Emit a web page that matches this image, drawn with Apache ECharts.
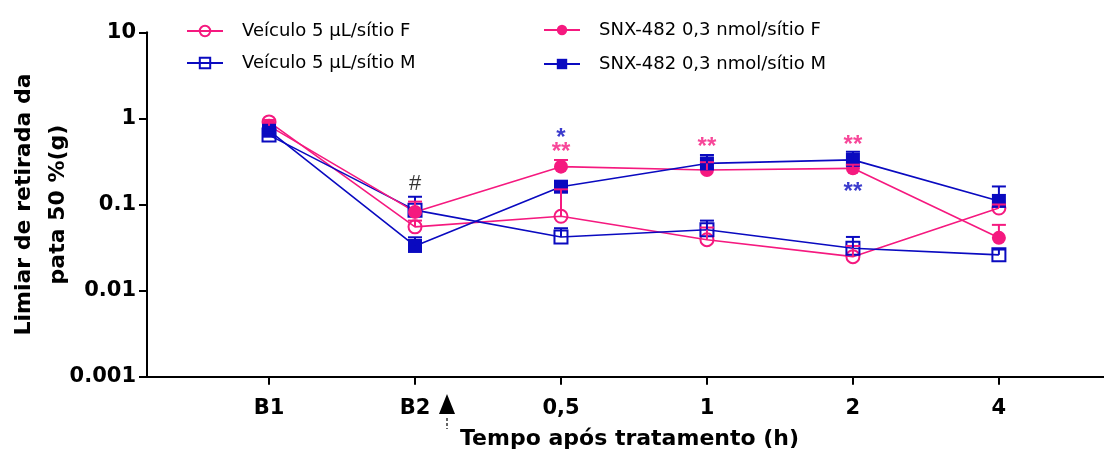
<!DOCTYPE html>
<html>
<head>
<meta charset="utf-8">
<script src="https://cdn.jsdelivr.net/npm/echarts@6/dist/echarts.min.js"></script>
<style>
html,body{margin:0;padding:0;background:#fff;}
#chart{width:1104px;height:457px;}
</style>
</head>
<body>
<div id="chart"></div>
<script>
// time points (x axis) and y tick labels
var categories = ['B1', 'B2', '0,5', '1', '2', '4'];
var yTickLabels = ['0.001', '0.01', '0.1', '1', '10'];

// means and top of error bars (g)
var vehF = [0.91, 0.055, 0.073, 0.039, 0.0248, 0.091];
var vehFTop = [0.96, 0.065, 0.15, 0.054, 0.033, 0.10];
var vehM = [0.64, 0.086, 0.042, 0.051, 0.031, 0.026];
var vehMTop = [0.68, 0.123, 0.053, 0.065, 0.042, 0.030];
var snxF = [0.82, 0.082, 0.275, 0.252, 0.263, 0.041];
var snxFTop = [0.90, 0.108, 0.329, 0.31, 0.29, 0.058];
var snxM = [0.72, 0.033, 0.161, 0.30, 0.33, 0.11];
var snxMTop = [0.78, 0.0416, 0.18, 0.376, 0.41, 0.162];

// significance marks: time index, height, text, group
var markIdx = [1, 2, 2, 3, 4, 4];
var markVal = [0.178, 0.68, 0.478, 0.536, 0.571, 0.161];
var markText = ['#', '*', '**', '**', '**', '**'];
var markGroup = ['none', 'M', 'F', 'F', 'F', 'M'];

var PINK = '#F5197F';
var BLUE = '#0A0AC0';
var FONT = '"DejaVu Sans", sans-serif';
var MARKFONT = '"Liberation Sans", Arial, sans-serif';

var nameVehF = 'Veículo 5 µL/sítio F';
var nameVehM = 'Veículo 5 µL/sítio M';
var nameSnxF = 'SNX-482 0,3 nmol/sítio F';
var nameSnxM = 'SNX-482 0,3 nmol/sítio M';

function toPairs(arr) {
    return arr.map(function (v, i) { return [i, v]; });
}

function lineSeries(name, vals, color, symbol, filled) {
    return {
        name: name,
        type: 'line',
        data: toPairs(vals),
        symbol: symbol,
        symbolSize: filled ? 14 : 13,
        lineStyle: { color: color, width: 1.6 },
        itemStyle: {
            color: filled ? color : 'rgba(0,0,0,0)',
            borderColor: color,
            borderWidth: filled ? 0 : 2
        },
        z: 3
    };
}

function errSeries(name, vals, tops, color) {
    var data = vals.map(function (v, i) { return [i, v, tops[i]]; });
    return {
        name: name + ' err',
        type: 'custom',
        data: data,
        z: 4,
        renderItem: function (params, api) {
            var p0 = api.coord([api.value(0), api.value(1)]);
            var p1 = api.coord([api.value(0), api.value(2)]);
            var style = { stroke: color, lineWidth: 2 };
            return {
                type: 'group',
                children: [
                    { type: 'line', shape: { x1: p0[0], y1: p0[1], x2: p1[0], y2: p1[1] }, style: style },
                    { type: 'line', shape: { x1: p1[0] - 7, y1: p1[1], x2: p1[0] + 7, y2: p1[1] }, style: style }
                ]
            };
        }
    };
}

var markData = markIdx.map(function (x, i) {
    var c = markGroup[i] == 'F' ? PINK : (markGroup[i] == 'M' ? BLUE : '#000');
    var isStar = markText[i].charAt(0) == '*';
    return {
        value: [x, markVal[i]],
        label: {
            formatter: markText[i],
            color: c,
            fontSize: isStar ? 24 : 22,
            fontWeight: isStar ? 'bold' : 'normal',
            offset: isStar ? [0, 6] : [0, 1]
        }
    };
});

var chart = echarts.init(document.getElementById('chart'));

var legendText = { fontFamily: FONT, fontSize: 18, color: '#000', padding: [0, 0, 0, 14] };

var option = {
    animation: false,
    backgroundColor: '#fff',
    textStyle: { fontFamily: FONT },
    grid: {
        left: 147, right: 0, top: 32.3, bottom: 80.3,
        outerBoundsMode: 'none'
    },
    legend: [
        {
            orient: 'vertical', left: 181, top: 17,
            itemWidth: 36, itemHeight: 13, itemGap: 14,
            data: [nameVehF, nameVehM],
            textStyle: legendText
        },
        {
            orient: 'vertical', left: 538, top: 16,
            itemWidth: 36, itemHeight: 13, itemGap: 16,
            data: [nameSnxF, nameSnxM],
            textStyle: legendText
        }
    ],
    xAxis: {
        type: 'value',
        min: -0.836,
        max: 5.72,
        splitLine: { show: false },
        axisLine: { show: true, onZero: false, lineStyle: { color: '#000', width: 2 } },
        axisTick: { show: true, length: 8, lineStyle: { color: '#000', width: 2 }, customValues: [0, 1, 2, 3, 4, 5] },
        axisLabel: {
            customValues: [0, 1, 2, 3, 4, 5],
            margin: 21,
            fontSize: 21, fontWeight: 'bold', color: '#000', fontFamily: FONT,
            formatter: function (v) { return categories[Math.round(v)]; }
        },
        name: 'Tempo após tratamento (h)',
        nameLocation: 'middle',
        nameGap: 52,
        nameMoveOverlap: false,
        nameTextStyle: { fontSize: 22, fontWeight: 'bold', color: '#000', fontFamily: FONT, padding: [0, 0, 0, 8] }
    },
    yAxis: {
        type: 'log',
        logBase: 10,
        min: 0.001,
        max: 10,
        splitLine: { show: false },
        minorTick: { show: false },
        axisLine: { show: true, onZero: false, lineStyle: { color: '#000', width: 2 } },
        axisTick: { show: true, length: 8, lineStyle: { color: '#000', width: 2 } },
        axisLabel: {
            margin: 11,
            fontSize: 21, fontWeight: 'bold', color: '#000', fontFamily: FONT,
            formatter: function (v) {
                return yTickLabels[Math.round(Math.log(v) / Math.LN10) + 3];
            }
        },
        name: 'Limiar de retirada da\npata 50 %(g)',
        nameLocation: 'middle',
        nameGap: 72,
        nameMoveOverlap: false,
        nameTextStyle: { fontSize: 22, fontWeight: 'bold', color: '#000', fontFamily: FONT, lineHeight: 34 }
    },
    series: [
        lineSeries(nameVehF, vehF, PINK, 'circle', false),
        lineSeries(nameVehM, vehM, BLUE, 'rect', false),
        lineSeries(nameSnxF, snxF, PINK, 'circle', true),
        lineSeries(nameSnxM, snxM, BLUE, 'rect', true),
        errSeries(nameVehF, vehF, vehFTop, PINK),
        errSeries(nameVehM, vehM, vehMTop, BLUE),
        errSeries(nameSnxF, snxF, snxFTop, PINK),
        errSeries(nameSnxM, snxM, snxMTop, BLUE),
        {
            name: 'marks',
            type: 'scatter',
            symbolSize: 0,
            silent: true,
            data: markData,
            label: { show: true, position: 'inside', fontFamily: MARKFONT },
            z: 6
        }
    ],
    graphic: [
        {
            type: 'polygon',
            shape: { points: [[447, 394], [439, 414], [455, 414]] },
            style: { fill: '#000' }
        },
        {
            type: 'line',
            shape: { x1: 447, y1: 418, x2: 447, y2: 429 },
            style: { stroke: '#000', lineWidth: 1.2, lineDash: [3, 2] }
        }
    ]
};

chart.setOption(option);
</script>
</body>
</html>
